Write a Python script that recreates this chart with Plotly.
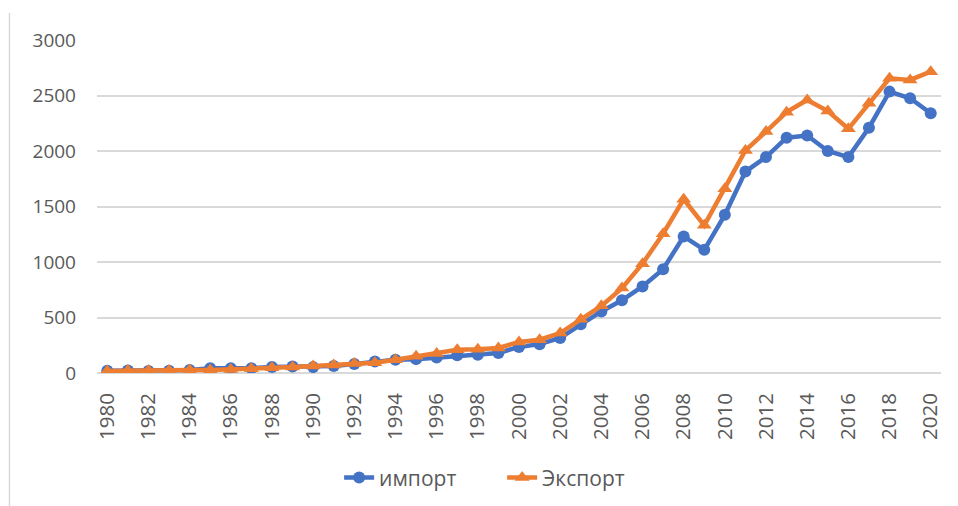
import plotly.graph_objects as go

years = [str(y) for y in range(1980, 2021)]
imports = [20, 22, 19, 21, 27, 42, 43, 43, 55, 59, 53, 64, 81, 104,
           120, 125, 140, 160, 165, 180, 235, 260, 315, 440, 555, 655,
           780, 935, 1230, 1110, 1425, 1815, 1945, 2120, 2140, 2000,
           1945, 2210, 2535, 2475, 2340]
exports = [18, 22, 22, 22, 26, 27, 31, 39, 47, 53, 62, 72, 85, 92,
           120, 150, 175, 210, 215, 225, 280, 300, 360, 485, 605, 765,
           985, 1255, 1565, 1330, 1660, 2005, 2175, 2350, 2460, 2360,
           2200, 2430, 2655, 2640, 2715]
tick_years = [str(y) for y in range(1980, 2021, 2)]
y_ticks = [0, 500, 1000, 1500, 2000, 2500, 3000]

BLUE = "#4472C4"
ORANGE = "#ED7D31"
TXT = "#595959"
GRID = "#D9D9D9"
FONT = "Open Sans"

fig = go.Figure()
fig.add_trace(go.Scatter(
    x=years, y=imports, name="импорт", mode="lines+markers",
    line=dict(color=BLUE, width=4.5),
    marker=dict(symbol="circle", size=12, color=BLUE),
))
fig.add_trace(go.Scatter(
    x=years, y=exports, name="Экспорт", mode="lines+markers",
    line=dict(color=ORANGE, width=4.5),
    marker=dict(symbol="triangle-up", size=13, color=ORANGE),
))

# page body has an 8px default margin; compensate so plot area sits at
# x 97..941, y 40..373 in the window
fig.update_layout(
    width=950, height=498,
    margin=dict(l=89, r=17, t=32, b=133, autoexpand=False),
    paper_bgcolor="white", plot_bgcolor="white",
    font=dict(family=FONT, size=19, color=TXT),
    showlegend=True,
    legend=dict(orientation="h", x=0.48, xanchor="center", y=-0.315,
                yanchor="middle", font=dict(size=21, color=TXT),
                entrywidth=118, entrywidthmode="pixels"),
    xaxis=dict(type="category", tickmode="array", tickvals=tick_years,
               ticktext=tick_years, tickangle=-90, showgrid=False,
               showline=False, zeroline=False, ticks="", automargin=False,
               ticklabelstandoff=15, range=[-0.5, 40.5],
               tickfont=dict(size=20.5, color=TXT)),
    yaxis=dict(range=[0, 3000], tickmode="array", tickvals=y_ticks,
               showgrid=True, gridcolor=GRID, gridwidth=1.5,
               zeroline=True, zerolinecolor=GRID, zerolinewidth=1.5,
               showline=False, ticks="", ticklabelstandoff=20,
               automargin=False, tickfont=dict(size=19, color=TXT)),
    shapes=[dict(type="line", xref="paper", yref="paper",
                 x0=-0.1037, x1=-0.1037, y0=1.081, y1=-0.41,
                 line=dict(color=GRID, width=1.5))],
)

fig.write_html("out.html")
